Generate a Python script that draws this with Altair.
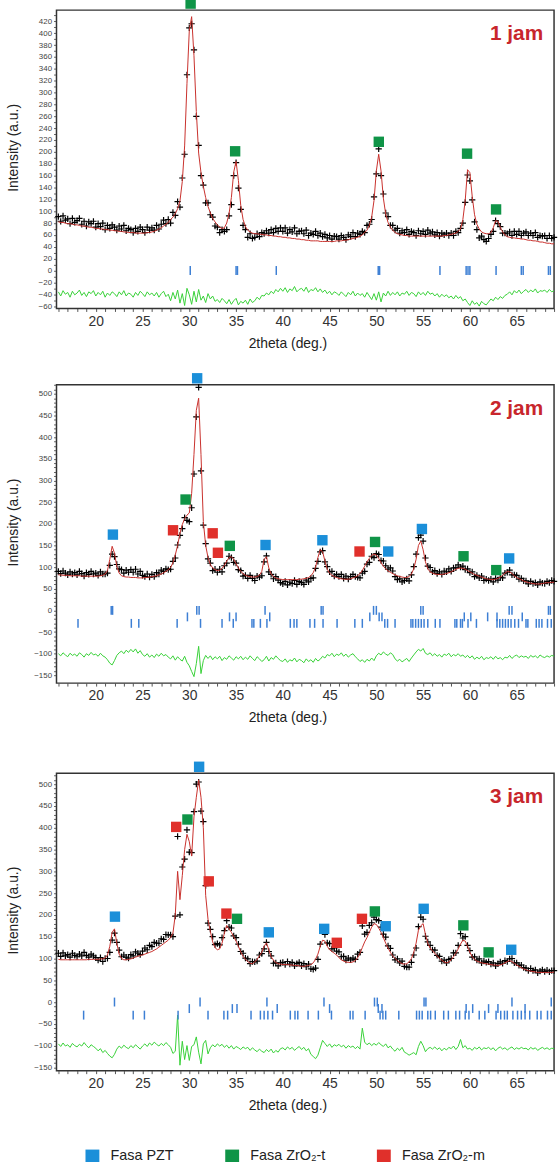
import altair as alt
import pandas as pd

FONT = "Liberation Sans"
X_START, X_STEP = 16.0, 0.25

# ---------------- panel 1 (1 jam) ----------------
calc1 = [82, 81, 81, 80, 79, 79, 78, 77,
         77, 76, 75, 75, 74, 73, 73, 72,
         71, 71, 70, 70, 69, 69, 68, 68,
         67, 67, 66, 66, 65, 65, 64, 64,
         64, 63, 63, 63, 63, 63, 64, 64,
         65, 66, 68, 70, 72, 75, 78, 81,
         86, 90, 96, 104, 117, 150, 210, 315,
         405, 428, 362, 268, 198, 165, 142, 123,
         108, 97, 88, 82, 77, 73, 71, 72,
         80, 96, 123, 166, 184, 152, 110, 86,
         74, 68, 65, 63, 62, 62, 61, 61,
         60, 60, 59, 59, 58, 58, 57, 57,
         56, 56, 55, 55, 54, 54, 53, 53,
         52, 52, 51, 51, 50, 50, 50, 50,
         49, 49, 49, 49, 49, 49, 49, 50,
         50, 50, 51, 51, 52, 53, 54, 55,
         56, 58, 60, 64, 68, 76, 90, 118,
         168, 196, 168, 122, 95, 81, 73, 68,
         64, 62, 61, 60, 59, 59, 58, 58,
         58, 58, 58, 58, 58, 58, 58, 58,
         58, 58, 58, 58, 58, 59, 59, 60,
         61, 62, 63, 66, 70, 86, 118, 170,
         165, 125, 94, 78, 70, 65, 63, 62,
         62, 64, 72, 84, 83, 73, 65, 60,
         57, 56, 55, 55, 54, 54, 53, 53,
         52, 51, 51, 50, 50, 49, 48, 48,
         47, 46, 46, 45, 45]
res1 = [9, 2, 11, 5, 8, 0, 10, 4,
        7, 12, 3, 8, 1, 9, 6, 11,
        2, 8, 4, 10, 0, 7, 3, 9,
        6, 1, 9, 4, 11, 2, 7, 5,
        0, 8, 3, 10, 6, 1, 9, 4,
        7, 2, 8, 0, 6, 10, 1, 5,
        -6, 8, -3, 12, -10, 6, -14, 15,
        4, -12, 10, -8, 13, -5, 2, -9,
        6, -3, 2, -7, -4, -9, -2, -6,
        -11, -4, -12, -6, -2, -13, -7, -10,
        -5, -12, -3, -9, -6, 0, -4, 3,
        2, 7, 4, 10, 6, 13, 9, 15,
        10, 16, 8, 14, 11, 18, 9, 13,
        15, 10, 17, 8, 13, 11, 16, 9,
        14, 8, 12, 6, 10, 4, 9, 7,
        3, 9, 5, 1, 8, 4, 10, 2,
        7, 3, 6, 0, 8, 2, -4, 6,
        -5, 9, -8, 7, 2, 10, 3, 8,
        4, 9, 2, 7, 5, 10, 3, 8,
        6, 1, 9, 4, 8, 3, 10, 5,
        7, 2, 6, 0, 5, 1, 4, -1,
        2, -3, 3, -2, 1, -6, -3, -9,
        -14, -6, -12, -9, -15, -7, -11, -13,
        -8, -3, -6, 0, -4, 1, -2, 3,
        5, 9, 4, 11, 7, 12, 6, 10,
        13, 8, 12, 9, 14, 7, 11, 10,
        12, 8, 13, 9, 11]
p1_ticks_t = [30.1, 35.0, 35.15, 39.3, 50.2, 50.35, 56.8, 59.6, 59.8, 60.0,
              62.8, 65.5, 65.7, 68.4, 68.6]
p1_mk_x = [30.14, 34.9, 50.26, 59.7, 62.8]
p1_mk_y = [450, 201, 217, 197, 103]
p1_mk_p = ["Fasa ZrO₂-t"] * 5

# ---------------- panel 2 (2 jam) ----------------
calc2 = [82, 82, 81, 81, 81, 80, 80, 80,
         80, 80, 79, 79, 79, 79, 79, 79,
         79, 79, 80, 81, 84, 92, 118, 148,
         132, 102, 86, 80, 78, 77, 77, 76,
         76, 76, 75, 75, 75, 76, 76, 77,
         78, 79, 80, 82, 84, 87, 90, 94,
         99, 110, 128, 150, 178, 198, 212, 220,
         225, 270, 360, 462, 490, 360, 205, 150,
         122, 106, 98, 94, 92, 93, 97, 104,
         114, 122, 124, 118, 108, 98, 90, 85,
         81, 79, 78, 77, 77, 78, 81, 90,
         118, 124, 98, 84, 78, 75, 73, 72,
         71, 71, 71, 71, 71, 71, 71, 72,
         72, 73, 74, 76, 80, 87, 100, 122,
         140, 136, 114, 95, 86, 81, 78, 76,
         74, 73, 72, 72, 72, 73, 75, 77,
         80, 85, 92, 102, 112, 120, 127, 130,
         128, 120, 110, 102, 96, 91, 88, 85,
         82, 80, 78, 77, 76, 76, 78, 84,
         96, 118, 150, 160, 140, 112, 96, 89,
         86, 84, 83, 83, 83, 84, 85, 87,
         89, 92, 95, 97, 98, 97, 95, 92,
         89, 86, 83, 81, 79, 77, 75, 73,
         72, 71, 71, 72, 74, 77, 81, 86,
         90, 89, 85, 80, 76, 73, 71, 68,
         66, 64, 63, 62, 61, 61, 61, 62,
         63, 64, 64, 65, 65]
res2 = [8, 3, 10, 5, 1, 9, 4, 7,
        2, 10, 6, 0, 8, 4, 11, 5,
        7, 2, 9, 3, 0, -6, -14, -18,
        -8, 4, 10, 14, 8, 16, 11, 18,
        12, 19, 9, 15, 6, 2, 8, 0,
        5, -1, 7, 2, 9, 3, 6, 0,
        -4, 3, -7, 1, -5, -9, 2, -12,
        -20, -33, -45, -15, 25, -38, -8, 4,
        -3, 3, -6, 1, -4, 2, -8, -1,
        -5, 3, -2, -7, 1, -4, 2, -6,
        0, -5, 3, -3, -8, 1, -4, -10,
        -6, 2, -9, -1, -5, 3, -3, -8,
        -10, -4, -12, -6, -9, -2, -11, -5,
        -8, -13, -4, -10, -6, -12, -3, -9,
        -5, 2, -2, 6, 3, 9, 1, 7,
        4, 10, 2, 7, 0, 5, 8, 1,
        -4, -10, -6, -12, -5, -9, -2, -8,
        3, 9, 5, 12, 7, 4, 10, 6,
        -4, -9, -5, -11, -7, -3, -10, -2,
        5, 12, 18, 14, 20, 9, 6, 10,
        3, 8, 2, 6, 0, 7, 4, 9,
        1, 6, 3, 8, 2, 5, -1, 4,
        -2, 3, -5, 0, -4, 2, -6, -1,
        -3, 1, -5, 2, -4, -1, -6, 0,
        -2, 4, -3, 2, 5, -1, 3, 0,
        2, -3, 4, 0, 3, -2, 5, 1,
        -1, 3, 0, 4, 2]
p2_ticks_pzt = [21.65, 21.8, 30.8, 31.05, 38.1, 44.1, 44.3, 49.7, 50.0, 54.75,
                55.0, 64.2, 64.5, 68.4, 68.6]
p2_ticks_t = [29.8, 34.3, 35.0, 38.6, 49.3, 50.3, 50.6, 59.4, 60.1, 61.9, 62.9, 65.6]
p2_ticks_m = [18.1, 23.8, 24.6, 28.7, 31.2, 33.5, 34.7, 36.7, 36.9, 37.6, 38.3,
              40.8, 41.2, 41.5, 42.9, 43.4, 44.3, 45.8, 47.7, 48.5, 50.9, 51.2,
              52.0, 53.7, 53.9, 54.2, 54.5, 54.8, 55.1, 55.5, 56.3, 56.8, 58.4,
              58.6, 59.0, 59.2, 59.8, 60.7, 62.9, 63.2, 63.5, 63.8, 64.1, 64.4,
              64.8, 65.2, 66.0, 66.2, 67.1, 67.4, 67.7, 68.3, 68.7]
p2_mk_x = [21.83, 30.84, 38.15, 44.23, 51.27, 54.87, 64.2,
           29.6, 34.33, 49.86, 59.32, 62.82,
           28.26, 32.5, 33.06, 48.2]
p2_mk_y = [175, 536, 151, 162, 136, 188, 120,
           256, 149, 158, 125, 93,
           185, 178, 133, 136]
p2_mk_p = ["Fasa PZT"] * 7 + ["Fasa ZrO₂-t"] * 5 + ["Fasa ZrO₂-m"] * 4

# ---------------- panel 3 (3 jam) ----------------
calc3 = [98, 97, 97, 97, 97, 97, 97, 97,
         97, 97, 97, 97, 97, 98, 98, 98,
         98, 98, 99, 99, 101, 108, 128, 160,
         168, 135, 110, 100, 97, 97, 98, 99,
         101, 103, 105, 107, 108, 110, 112, 114,
         116, 119, 122, 126, 130, 134, 138, 142,
         148, 158, 200, 300, 235, 290, 350, 385,
         368, 335, 425, 470, 510, 470, 400, 245,
         190, 162, 138, 125, 120, 122, 135, 158,
         176, 168, 160, 150, 140, 128, 115, 105,
         98, 93, 89, 88, 92, 98, 106, 114,
         128, 136, 120, 104, 96, 91, 88, 87,
         86, 86, 86, 85, 85, 84, 84, 83,
         82, 82, 83, 84, 86, 90, 98, 110,
         128, 142, 140, 128, 120, 116, 112, 108,
         102, 97, 94, 92, 91, 91, 92, 95,
         102, 112, 125, 138, 148, 160, 172, 180,
         178, 170, 160, 148, 135, 124, 114, 106,
         100, 95, 91, 88, 87, 88, 92, 100,
         114, 135, 165, 175, 180, 155, 135, 124,
         118, 112, 106, 100, 96, 92, 90, 92,
         97, 104, 112, 122, 133, 142, 140, 128,
         114, 104, 98, 94, 92, 90, 89, 88,
         87, 86, 85, 85, 84, 85, 87, 90,
         93, 95, 93, 89, 85, 82, 79, 76,
         74, 72, 71, 70, 69, 68, 68, 68,
         68, 68, 68, 68, 69]
res3 = [14, 8, 16, 9, 12, 6, 15, 10,
        7, 13, 9, 17, 10, 5, 12, 8,
        4, -2, 3, -6, -1, -8, -14, -18,
        -10, 2, 9, 4, 11, 6, 3, 10,
        5, 12, 7, 2, 9, 14, 8, 16,
        11, 18, 13, 9, 15, 10, 17, 12,
        6, -8, -3, 80, -35, 20, -22, 10,
        -24, 8, 12, 30, -5, -32, 14, 22,
        -9, 5, 12, 7, 14, 9, 13, 6,
        11, 4, 10, 2, 8, 5, 1, 7,
        3, 6, -1, 5, 0, -4, 2, -3,
        -6, 1, -4, 2, -7, -1, -5, 3,
        5, 0, 7, 2, 6, -1, 4, 8,
        1, 6, -2, 3, -10, -15, -20, -12,
        5, 22, 15, 8, 14, 6, 12, 9,
        13, 7, 11, 4, 10, 6, 9, 3,
        8, 2, 50, 18, 12, 16, 10, 15,
        11, 17, 12, 8, 14, 5, 9, 2,
        -3, 4, -1, 6, -5, -8, -12, -9,
        -6, -11, 8, 20, 10, -4, 3, 6,
        2, 7, 1, 5, -2, 4, 0, 6,
        3, 9, 1, 8, 24, 5, 10, 2,
        4, -1, 6, 2, 7, 0, 5, 3,
        6, 1, 5, -2, 4, 7, 2, 5,
        0, 4, 7, 1, 5, 2, 6, 3,
        4, 0, 6, 2, 5, -1, 3, 6,
        2, 5, 1, 4, 3]
p3_ticks_pzt = [22.0, 31.15, 38.3, 44.4, 49.8, 50.1, 55.1, 55.3, 64.5, 68.7]
p3_ticks_t = [30.0, 34.6, 35.1, 39.4, 45.0, 50.2, 50.6, 59.6, 60.3, 62.0, 63.0, 65.9]
p3_ticks_m = [18.7, 24.0, 25.2, 28.8, 32.0, 33.7, 34.1, 36.6, 37.6, 38.0, 38.4,
              38.9, 40.8, 41.3, 41.6, 42.7, 43.8, 45.2, 47.2, 47.5, 48.8, 50.4,
              50.7, 51.0, 52.4, 54.3, 54.6, 54.9, 55.5, 55.8, 56.3, 57.2, 57.7,
              58.5, 58.9, 59.5, 59.9, 61.0, 61.6, 62.8, 63.3, 63.7, 64.0, 64.6,
              65.1, 65.5, 65.9, 66.4, 67.2, 67.6, 68.3, 68.7]
p3_mk_x = [31.05, 22.05, 38.5, 44.42, 51.0, 55.06, 64.42,
           29.8, 35.1, 49.84, 59.3, 62.0,
           28.6, 32.08, 33.97, 45.77, 48.46]
p3_mk_y = [540, 196, 160, 168, 174, 214, 120,
           419, 191, 208, 176, 114,
           402, 277, 203, 136, 191]
p3_mk_p = ["Fasa PZT"] * 7 + ["Fasa ZrO₂-t"] * 5 + ["Fasa ZrO₂-m"] * 5

PHASES = ["Fasa PZT", "Fasa ZrO₂-t", "Fasa ZrO₂-m"]
PHASE_COLORS = ["#1b8fd9", "#0f9447", "#e0302b"]
X_TICKS = list(range(16, 70))          # every degree, labelled every 5
Y1_TICKS = list(range(-60, 431, 10))   # labelled every 20
Y23_TICKS = list(range(-150, 521, 10))  # labelled every 50

CROSS = "M-1,0L1,0M0,-1L0,1"
W = 502


def panel(calc, res, offset, ydom, yticks, ystep, tick_sets, mk_x, mk_y, mk_p,
          label, h, top_gap=0):
    """h = frame height; top_gap = empty band above the frame inside the view."""
    x = [X_START + X_STEP * i for i in range(len(calc))]
    df = pd.DataFrame({"x": x, "calc": calc, "res": res})
    df["obs"] = df["calc"] + df["res"]
    df["diff"] = offset + df["res"]

    trows = []
    for row_y, vals in tick_sets:
        for v in vals:
            trows.append({"x": v, "y": row_y})
    dft = pd.DataFrame(trows)
    dfm = pd.DataFrame({"x": mk_x, "y": mk_y, "phase": mk_p})

    vh = h + top_gap
    ppu = h / (ydom[1] - ydom[0])
    ytop = ydom[1] + top_gap / ppu

    ylab_expr = "datum.value % " + str(ystep) + " === 0 ? datum.label : ''"
    xaxis = alt.Axis(values=X_TICKS, title="2theta (deg.)", labelFontSize=14,
                     labelExpr="datum.value % 5 === 0 ? datum.label : ''",
                     titleFontSize=14, tickSize=3, labelPadding=3, titlePadding=8,
                     titleX=233, grid=False, domain=False, labelColor="#333",
                     tickColor="#555", titleColor="#222", titleFontWeight="normal",
                     labelFont=FONT, titleFont=FONT, labelFlush=False,
                     labelOverlap=False)
    yaxis = alt.Axis(values=yticks, title="Intensity (a.u.)", labelFontSize=8,
                     labelExpr=ylab_expr,
                     titleFontSize=14, tickSize=3, labelPadding=2, grid=False,
                     domain=False, labelColor="#444", tickColor="#666",
                     titleColor="#222", titleFontWeight="normal", labelFont=FONT,
                     titleFont=FONT, titleX=-43, titleY=top_gap + h / 2 - 12,
                     titleBaseline="middle", labelOverlap=False)
    xs = alt.Scale(domain=[15.8, 69], nice=False, zero=False)
    ys = alt.Scale(domain=[ydom[0], ytop], nice=False, zero=False)

    def X(f="x"):
        return alt.X(f + ":Q", scale=xs, axis=xaxis)

    def Y(f):
        return alt.Y(f + ":Q", scale=ys, axis=yaxis)

    base = alt.Chart(df)
    frame = alt.Chart(pd.DataFrame({"f": [0]})).mark_rect(
        fill="white", fillOpacity=0, stroke="#333", strokeWidth=1.5).encode(
        x=alt.value(0), x2=alt.value(W), y=alt.value(top_gap), y2=alt.value(vh))
    obs = base.mark_point(shape=CROSS, filled=False, size=40, strokeWidth=1.2,
                          color="black", opacity=1).encode(x=X(), y=Y("obs"))
    cal = base.mark_line(color="#c8302c", strokeWidth=1).encode(x=X(), y=Y("calc"))
    dif = base.mark_line(color="#38d038", strokeWidth=1).encode(x=X(), y=Y("diff"))
    ticks = alt.Chart(dft).mark_tick(orient="vertical", size=9, thickness=1.5,
                                     color="#3d7fd4", opacity=1).encode(x=X(), y=Y("y"))
    mk = alt.Chart(dfm).mark_square(size=110, opacity=1, clip=False).encode(
        x=X(), y=Y("y"),
        color=alt.Color("phase:N",
                        scale=alt.Scale(domain=PHASES, range=PHASE_COLORS),
                        legend=alt.Legend(title=None, orient="none",
                                          direction="horizontal",
                                          legendX=29, legendY=1149,
                                          symbolType="square", symbolSize=196,
                                          symbolStrokeWidth=0, labelFontSize=14.5,
                                          labelFont=FONT, labelColor="#222",
                                          columnPadding=51, labelOffset=11,
                                          padding=0)))
    txt = alt.Chart(pd.DataFrame({"t": [label]})).mark_text(
        align="right", baseline="middle", fontSize=21, fontWeight="bold",
        font=FONT, color="#c8262c").encode(
        text="t:N", x=alt.value(W - 11), y=alt.value(top_gap + 24))
    return alt.layer(frame, obs, cal, dif, ticks, mk, txt).properties(
        width=W, height=vh,
        view=alt.ViewBackground(stroke="transparent", strokeWidth=0))


p1 = panel(calc1, res1, -45, [-64, 439], Y1_TICKS, 20, [(0, p1_ticks_t)],
           p1_mk_x, p1_mk_y, p1_mk_p, "1 jam", 301)
p2 = panel(calc2, res2, -108, [-168, 521], Y23_TICKS, 50,
           [(0, p2_ticks_pzt), (-15, p2_ticks_t), (-30, p2_ticks_m)],
           p2_mk_x, p2_mk_y, p2_mk_p, "2 jam", 301)
p3 = panel(calc3, res3, -110, [-157.5, 525], Y23_TICKS, 50,
           [(0, p3_ticks_pzt), (-15, p3_ticks_t), (-30, p3_ticks_m)],
           p3_mk_x, p3_mk_y, p3_mk_p, "3 jam", 300, top_gap=14)

chart = alt.vconcat(p1, p2, p3, spacing=77, bounds="flush").properties(
    padding={"left": 7, "top": -7, "right": 0, "bottom": 0}
).configure_view(stroke="transparent", strokeWidth=0).configure(font=FONT)

chart.save("out.html", embed_options={"renderer": "svg", "actions": False})
